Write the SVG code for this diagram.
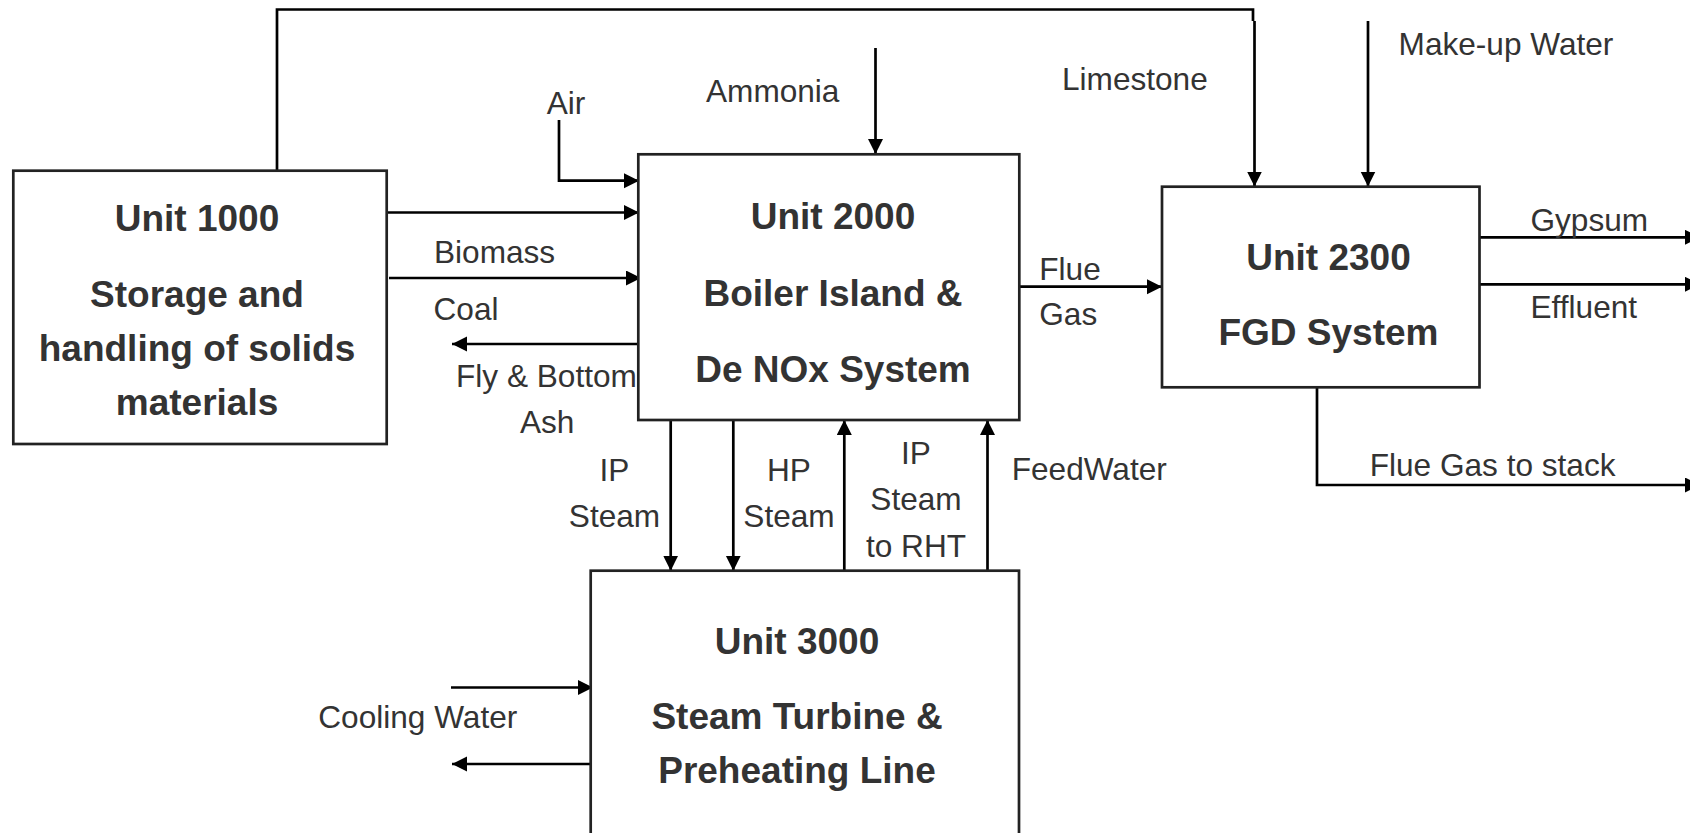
<svg xmlns="http://www.w3.org/2000/svg" width="1690" height="833" viewBox="0 0 1690 833">
<style>
.box{fill:#fff;stroke:#222;stroke-width:2.7}
.ln{fill:none;stroke:#000;stroke-width:2.7}
.arr{marker-end:url(#ah)}
.t{font-family:"Liberation Sans",Arial,sans-serif;font-size:31.6px;fill:#333}
.c{text-anchor:middle}
.b{font-family:"Liberation Sans",Arial,sans-serif;font-size:37px;font-weight:bold;fill:#333;text-anchor:middle}
</style>
<defs>
<marker id="ah" markerUnits="userSpaceOnUse" markerWidth="16" markerHeight="16" refX="15" refY="7.5" orient="auto">
<path d="M0,0 L15,7.5 L0,15 z" fill="#000"/>
</marker>
</defs>
<rect width="1690" height="833" fill="#fff"/>
<g id="connectors">
<path class="ln" d="M277,170 V9.5 H1253 V21"/>
<path class="ln arr" d="M1254.5,21 V186.5"/>
<path class="ln arr" d="M1368,21 V186.5"/>
<path class="ln arr" d="M559,120 V180.7 H639"/>
<path class="ln arr" d="M387,212.5 H639"/>
<path class="ln arr" d="M389,278 H641"/>
<path class="ln arr" d="M643,344 H452"/>
<path class="ln arr" d="M875.5,48 V154"/>
<path class="ln arr" d="M1019,286.7 H1162"/>
<path class="ln arr" d="M1479.5,237.3 H1700"/>
<path class="ln arr" d="M1479.5,284.3 H1700"/>
<path class="ln arr" d="M1317,387 V485 H1700"/>
<path class="ln arr" d="M670.7,420 V570.7"/>
<path class="ln arr" d="M733.3,420 V570.7"/>
<path class="ln arr" d="M844.3,570.7 V420"/>
<path class="ln arr" d="M987.5,570.7 V420"/>
<path class="ln arr" d="M451,687.5 H593"/>
<path class="ln arr" d="M595,764 H452"/>
</g>
<g id="labels">
<text class="t" x="546.7" y="114.3">Air</text>
<text class="t" x="706" y="101.7">Ammonia</text>
<text class="t" x="1062" y="90">Limestone</text>
<text class="t" x="1398.6" y="55">Make-up Water</text>
<text class="t" x="434" y="262.5">Biomass</text>
<text class="t" x="433.5" y="320">Coal</text>
<text class="t" x="456" y="387">Fly &amp; Bottom</text>
<text class="t" x="520" y="432.7">Ash</text>
<text class="t" x="1039.3" y="280">Flue</text>
<text class="t" x="1039.3" y="325">Gas</text>
<text class="t" x="1530.5" y="231">Gypsum</text>
<text class="t" x="1530.5" y="318.3">Effluent</text>
<text class="t" x="1369.7" y="476">Flue Gas to stack</text>
<text class="t" x="1011.7" y="480">FeedWater</text>
<text class="t c" x="614.5" y="481">IP</text>
<text class="t c" x="614.5" y="526.7">Steam</text>
<text class="t c" x="789" y="481">HP</text>
<text class="t c" x="789" y="526.7">Steam</text>
<text class="t c" x="916" y="464.3">IP</text>
<text class="t c" x="916" y="510">Steam</text>
<text class="t c" x="916" y="556.7">to RHT</text>
<text class="t" x="318.3" y="728.3">Cooling Water</text>
</g>
<g id="unit1000">
<rect class="box" x="13.3" y="170.7" width="373.4" height="273.3"/>
<text class="b" x="197" y="231">Unit 1000</text>
<text class="b" x="197" y="306.7">Storage and</text>
<text class="b" x="197" y="361">handling of solids</text>
<text class="b" x="197" y="415">materials</text>
</g>
<g id="unit2000">
<rect class="box" x="638.3" y="154.3" width="381" height="265.7"/>
<text class="b" x="833" y="229.3">Unit 2000</text>
<text class="b" x="833" y="306">Boiler Island &amp;</text>
<text class="b" x="833" y="381.7">De NOx System</text>
</g>
<g id="unit2300">
<rect class="box" x="1162" y="186.7" width="317.5" height="200.6"/>
<text class="b" x="1328.5" y="270">Unit 2300</text>
<text class="b" x="1328.5" y="345">FGD System</text>
</g>
<g id="unit3000">
<rect class="box" x="590.7" y="570.7" width="428.3" height="300"/>
<text class="b" x="797" y="654">Unit 3000</text>
<text class="b" x="797" y="729.3">Steam Turbine &amp;</text>
<text class="b" x="797" y="783.3">Preheating Line</text>
</g>
</svg>
